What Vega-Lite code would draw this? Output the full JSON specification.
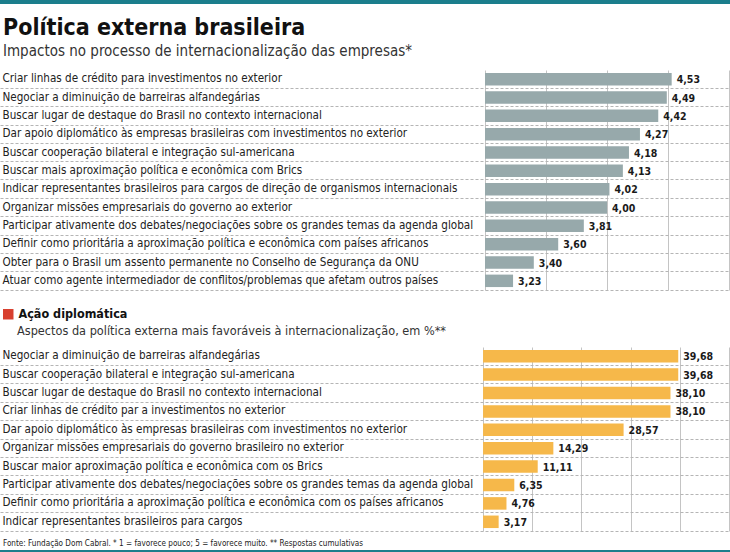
{
  "$schema": "https://vega.github.io/schema/vega-lite/v6.json",
  "padding": 0,
  "background": "white",
  "config": {
    "view": {"stroke": null},
    "font": "DejaVu Sans Condensed, sans-serif",
    "locale": {"number": {"decimal": ",", "thousands": ".", "grouping": [3], "currency": ["R$", ""]}},
    "title": {"anchor": "start", "frame": "bounds"}
  },
  "spacing": 13,
  "resolve": {"scale": {"color": "independent"}, "legend": {"color": "independent"}},
  "vconcat": [
    {
      "data": {"values": [{"faixa": "topo"}]},
      "width": 730,
      "height": 4,
      "mark": {"type": "rect", "color": "#1B7E8C"},
      "encoding": {}
    },
    {
      "spacing": 8,
      "resolve": {"scale": {"color": "independent"}, "legend": {"color": "independent"}},
      "vconcat": [
        {
          "spacing": 2,
          "resolve": {"scale": {"color": "independent"}, "legend": {"color": "independent"}},
          "vconcat": [
            {
              "data": {"values": [
                {"aspecto": "Criar linhas de crédito para investimentos no exterior", "nota": 4.53},
                {"aspecto": "Negociar a diminuição de barreiras alfandegárias", "nota": 4.49},
                {"aspecto": "Buscar lugar de destaque do Brasil no contexto internacional", "nota": 4.42},
                {"aspecto": "Dar apoio diplomático às empresas brasileiras com investimentos no exterior", "nota": 4.27},
                {"aspecto": "Buscar cooperação bilateral e integração sul-americana", "nota": 4.18},
                {"aspecto": "Buscar mais aproximação política e econômica com Brics", "nota": 4.13},
                {"aspecto": "Indicar representantes brasileiros para cargos de direção de organismos internacionais", "nota": 4.02},
                {"aspecto": "Organizar missões empresariais do governo ao exterior", "nota": 4.00},
                {"aspecto": "Participar ativamente dos debates/negociações sobre os grandes temas da agenda global", "nota": 3.81},
                {"aspecto": "Definir como prioritária a aproximação política e econômica com países africanos", "nota": 3.60},
                {"aspecto": "Obter para o Brasil um assento permanente no Conselho de Segurança da ONU", "nota": 3.40},
                {"aspecto": "Atuar como agente intermediador de conflitos/problemas que afetam outros países", "nota": 3.23}
              ]},
              "width": 730,
              "height": 220,
              "title": {
                "text": "Política externa brasileira",
                "subtitle": "Impactos no processo de internacionalização das empresas*",
                "fontSize": 23,
                "fontWeight": "bold",
                "color": "#111111",
                "subtitleFontSize": 15,
                "subtitleColor": "#333333",
                "subtitlePadding": 4,
                "offset": 11,
                "dx": 3
              },
              "encoding": {
                "y": {
                  "field": "aspecto",
                  "type": "nominal",
                  "sort": null,
                  "scale": {"paddingInner": 0, "paddingOuter": 0},
                  "axis": {
                    "title": null,
                    "orient": "left",
                    "labelAlign": "left",
                    "labelPadding": -2,
                    "labelFontSize": 11.6,
                    "labelColor": "#222222",
                    "labelLimit": 0,
                    "ticks": false,
                    "domain": false,
                    "grid": true,
                    "bandPosition": 1,
                    "gridDash": [3, 2],
                    "gridColor": "#b5b5b5"
                  }
                }
              },
              "layer": [
                {
                  "mark": {"type": "bar", "height": {"band": 0.68}, "color": "#97A9AB"},
                  "encoding": {
                    "x": {
                      "field": "nota",
                      "type": "quantitative",
                      "scale": {"domain": [-0.975, 5.008], "nice": false, "zero": false},
                      "axis": {
                        "orient": "top",
                        "title": null,
                        "labels": false,
                        "ticks": false,
                        "domain": false,
                        "grid": true,
                        "values": [3, 3.5, 4, 4.5, 5],
                        "gridColor": "#c4c4c4"
                      }
                    },
                    "x2": {"datum": 3}
                  }
                },
                {
                  "mark": {"type": "square", "size": 0, "filled": true},
                  "encoding": {
                    "x": {"field": "nota", "type": "quantitative"},
                    "color": {
                      "datum": "Ação diplomática",
                      "scale": {"range": ["#D8402F"]},
                      "legend": {
                        "orient": "bottom",
                        "title": null,
                        "symbolType": "square",
                        "symbolSize": 110,
                        "symbolOpacity": 1,
                        "labelFontSize": 12.5,
                        "labelFontWeight": "bold",
                        "labelColor": "#111111",
                        "offset": 16,
                        "padding": 2
                      }
                    }
                  }
                },
                {
                  "mark": {"type": "text", "align": "left", "baseline": "middle", "dx": 5, "dy": 1, "fontSize": 10.5, "fontWeight": "bold", "color": "#1a1a1a"},
                  "encoding": {
                    "x": {"field": "nota", "type": "quantitative"},
                    "text": {"field": "nota", "type": "quantitative", "format": ".2f"}
                  }
                }
              ]
            },
            {
              "data": {"values": [
                {"aspecto": "Negociar a diminuição de barreiras alfandegárias", "pct": 39.68},
                {"aspecto": "Buscar cooperação bilateral e integração sul-americana", "pct": 39.68},
                {"aspecto": "Buscar lugar de destaque do Brasil no contexto internacional", "pct": 38.10},
                {"aspecto": "Criar linhas de crédito par a investimentos no exterior", "pct": 38.10},
                {"aspecto": "Dar apoio diplomático às empresas brasileiras com investimentos no exterior", "pct": 28.57},
                {"aspecto": "Organizar missões empresariais do governo brasileiro no exterior", "pct": 14.29},
                {"aspecto": "Buscar maior aproximação política e econômica com os Brics", "pct": 11.11},
                {"aspecto": "Participar ativamente dos debates/negociações sobre os grandes temas da agenda global", "pct": 6.35},
                {"aspecto": "Definir como prioritária a aproximação política e econômica com os países africanos", "pct": 4.76},
                {"aspecto": "Indicar representantes brasileiros para cargos", "pct": 3.17}
              ]},
              "width": 730,
              "height": 184,
              "title": {
                "text": "Aspectos da política externa mais favoráveis à internacionalização, em %**",
                "fontSize": 12.6,
                "fontWeight": "normal",
                "color": "#333333",
                "offset": 9,
                "dx": 17
              },
              "encoding": {
                "y": {
                  "field": "aspecto",
                  "type": "nominal",
                  "sort": null,
                  "scale": {"paddingInner": 0, "paddingOuter": 0},
                  "axis": {
                    "title": null,
                    "orient": "left",
                    "labelAlign": "left",
                    "labelPadding": -2,
                    "labelFontSize": 11.6,
                    "labelColor": "#222222",
                    "labelLimit": 0,
                    "ticks": false,
                    "domain": false,
                    "grid": true,
                    "bandPosition": 1,
                    "gridDash": [3, 2],
                    "gridColor": "#b5b5b5"
                  }
                }
              },
              "layer": [
                {
                  "mark": {"type": "bar", "height": {"band": 0.68}, "color": "#F6B84A"},
                  "encoding": {
                    "x": {
                      "field": "pct",
                      "type": "quantitative",
                      "scale": {"domain": [-98.2, 50.2], "nice": false, "zero": false},
                      "axis": {
                        "orient": "top",
                        "title": null,
                        "labels": false,
                        "ticks": false,
                        "domain": false,
                        "grid": true,
                        "values": [0, 10, 20, 30, 40, 50],
                        "gridColor": "#c4c4c4"
                      }
                    },
                    "x2": {"datum": 0}
                  }
                },
                {
                  "mark": {"type": "text", "align": "left", "baseline": "middle", "dx": 5, "dy": 1, "fontSize": 10.5, "fontWeight": "bold", "color": "#1a1a1a"},
                  "encoding": {
                    "x": {"field": "pct", "type": "quantitative"},
                    "text": {"field": "pct", "type": "quantitative", "format": ".2f"}
                  }
                }
              ]
            }
          ]
        },
        {
          "data": {"values": [{"faixa": "base"}]},
          "width": 730,
          "height": 4,
          "title": {
            "text": "Fonte: Fundação Dom Cabral. * 1 = favorece pouco; 5 = favorece muito. ** Respostas cumulativas",
            "fontSize": 8.1,
            "fontWeight": "normal",
            "color": "#222222",
            "offset": 2,
            "dx": 3
          },
          "mark": {"type": "rect", "color": "#1B7E8C"},
          "encoding": {}
        }
      ]
    }
  ]
}
